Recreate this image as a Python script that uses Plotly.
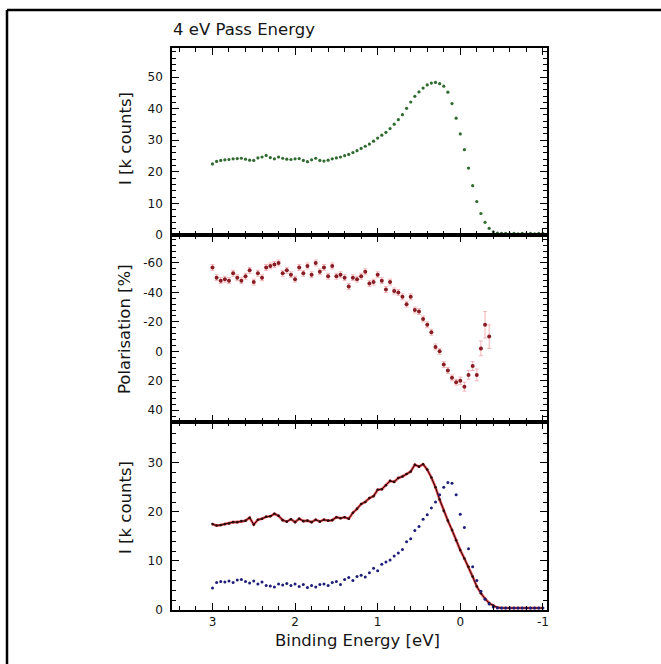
import plotly.graph_objects as go

# ---------------- data ----------------
energy = [3.00, 2.95, 2.90, 2.85, 2.80, 2.75, 2.70, 2.65, 2.60, 2.55,
          2.50, 2.45, 2.40, 2.35, 2.30, 2.25, 2.20, 2.15, 2.10, 2.05,
          2.00, 1.95, 1.90, 1.85, 1.80, 1.75, 1.70, 1.65, 1.60, 1.55,
          1.50, 1.45, 1.40, 1.35, 1.30, 1.25, 1.20, 1.15, 1.10, 1.05,
          1.00, 0.95, 0.90, 0.85, 0.80, 0.75, 0.70, 0.65, 0.60, 0.55,
          0.50, 0.45, 0.40, 0.35, 0.30, 0.25, 0.20, 0.15, 0.10, 0.05,
          0.00, -0.05, -0.10, -0.15, -0.20, -0.25, -0.30, -0.35, -0.40, -0.45,
          -0.50, -0.55, -0.60, -0.65, -0.70, -0.75, -0.80, -0.85, -0.90, -0.95,
          -1.00]

intensity_total = [22.5, 23.3, 23.6, 23.8, 23.9, 24.1, 24.2, 24.3, 24.0, 23.7,
                   23.6, 24.4, 24.7, 25.2, 24.5, 24.1, 24.7, 24.3, 24.0, 23.9,
                   24.1, 24.2, 23.6, 23.2, 23.8, 24.3, 23.6, 23.4, 23.7, 24.1,
                   24.4, 24.7, 25.1, 25.5, 26.1, 26.7, 27.4, 28.1, 28.8, 29.7,
                   30.7, 31.6, 32.5, 33.7, 35.1, 36.5, 38.1, 40.1, 42.1, 43.9,
                   45.3, 46.5, 47.5, 48.1, 48.3, 47.9, 47.1, 45.2, 41.6, 37.0,
                   32.0, 27.0, 21.2, 15.6, 10.6, 6.8, 4.0, 2.1, 1.0, 0.6,
                   0.5, 0.5, 0.4, 0.5, 0.4, 0.5, 0.4, 0.5, 0.4, 0.5,
                   0.5]

energy_pol = energy[:68]
polarisation = [-57, -50, -48, -49, -48, -53, -50, -48, -51, -55,
                -47, -53, -50, -57, -58, -59, -60, -53, -55, -52,
                -49, -57, -53, -58, -52, -60, -54, -57, -51, -58,
                -51, -52, -50, -44, -50, -49, -51, -54, -46, -47,
                -52, -48, -42, -47, -41, -40, -37, -32, -37, -28,
                -27, -22, -18, -13, -3, 0, 9, 13, 18, 21,
                20, 24, 16, 10, 16, -2, -18, -10]
polarisation_err = [2, 2, 2, 2, 2, 2, 2, 2, 2, 2,
                    2, 2, 2, 2, 2, 2, 2, 2, 2, 2,
                    2, 2, 2, 2, 2, 2, 2, 2, 2, 2,
                    2, 2, 2, 2, 2, 2, 2, 2, 2, 2,
                    2, 2, 2, 2, 2, 2, 2, 2, 2, 2,
                    2, 2, 2, 2, 2, 2, 2, 2, 2, 2,
                    2.5, 3, 3, 3, 4, 5, 9, 8]

intensity_up = [17.5, 17.2, 17.3, 17.5, 17.6, 17.9, 17.9, 18.1, 18.2, 18.8,
                17.4, 18.4, 18.6, 19.0, 19.1, 19.6, 19.2, 18.3, 18.0, 18.5,
                17.9, 18.6, 18.1, 18.2, 17.9, 18.4, 18.0, 18.4, 18.2, 18.3,
                18.9, 18.7, 18.9, 18.6, 19.8, 20.6, 21.6, 22.0, 22.8, 23.2,
                24.5, 24.6, 25.4, 26.3, 26.1, 26.9, 27.2, 27.7, 28.2, 29.6,
                29.2, 29.7, 28.6, 27.0, 25.0, 22.5, 20.2, 18.2, 16.3, 14.2,
                12.2, 10.5, 8.8, 6.8, 4.8, 3.4, 2.3, 1.4, 0.9, 0.5,
                0.4, 0.4, 0.4, 0.4, 0.4, 0.4, 0.4, 0.4, 0.4, 0.4,
                0.4]

intensity_down = [4.5, 5.6, 5.8, 5.7, 5.9, 5.6, 6.1, 6.2, 5.8, 5.5,
                  5.9, 5.3, 5.7, 5.0, 4.9, 4.7, 5.3, 5.1, 5.4, 5.0,
                  5.3, 4.8, 5.2, 4.6, 5.0, 4.7, 5.2, 5.3, 5.0, 5.6,
                  5.8, 5.2, 6.2, 6.6, 6.0, 6.8, 7.1, 6.7, 7.6, 8.5,
                  8.0, 9.3, 9.8, 10.2, 11.0, 11.6, 12.3, 13.9, 14.5, 16.2,
                  17.0, 18.5, 19.4, 20.8, 22.0, 23.5, 25.0, 26.0, 25.8, 23.5,
                  19.5, 16.8, 12.5, 8.8, 6.0, 3.8, 2.2, 1.2, 0.6, 0.4,
                  0.4, 0.4, 0.4, 0.4, 0.4, 0.4, 0.4, 0.4, 0.4, 0.4,
                  0.4]

x_tickvals = [3, 2, 1, 0, -1]
x_ticktext = ["3", "2", "1", "0", "-1"]
y1_tickvals = [0, 10, 20, 30, 40, 50]
y2_tickvals = [-60, -40, -20, 0, 20, 40]
y2_ticktext = ["-60", "-40", "-20", "0", "20", "40"]
y3_tickvals = [0, 10, 20, 30]

# ---------------- figure ----------------
W, H = 661, 664
L, R, T, B = 172, 547, 48, 610
PW, PH = R - L, B - T

def px(x):
    return (x - L) / PW

def py(y):
    return (B - y) / PH

FONT = "DejaVu Sans"
TXT = "#151515"

fig = go.Figure()

fig.add_trace(go.Scatter(x=energy, y=intensity_total, mode="markers",
                         marker=dict(size=3.2, color="#2f6a2f"),
                         xaxis="x", yaxis="y", showlegend=False))

fig.add_trace(go.Scatter(x=energy_pol, y=polarisation, mode="markers",
                         marker=dict(size=4, color="#8a1c24"),
                         error_y=dict(type="data", array=polarisation_err,
                                      color="#f2b4b8", thickness=1, width=2),
                         xaxis="x2", yaxis="y2", showlegend=False))

fig.add_trace(go.Scatter(x=energy, y=intensity_up, mode="lines",
                         line=dict(color="#e8484e", width=2.6),
                         xaxis="x3", yaxis="y3", showlegend=False))
fig.add_trace(go.Scatter(x=energy, y=intensity_up, mode="lines+markers",
                         line=dict(color="#2a0c0c", width=1),
                         marker=dict(size=2.6, color="#2a0c0c"),
                         xaxis="x3", yaxis="y3", showlegend=False))
fig.add_trace(go.Scatter(x=energy, y=intensity_down, mode="markers",
                         marker=dict(size=3, color="#1e1e7a"),
                         xaxis="x3", yaxis="y3", showlegend=False))

axis_common = dict(showline=True, linecolor="black", linewidth=1.6,
                   mirror="ticks", ticks="inside", ticklen=7, tickwidth=1.4,
                   tickcolor="black", showgrid=False, zeroline=False,
                   tickfont=dict(family=FONT, size=12, color=TXT))

xr = [3.49, -1.05]
x_common = dict(axis_common, range=xr, tickvals=x_tickvals, ticktext=x_ticktext,
                minor=dict(ticks="inside", ticklen=4, tickwidth=1.1,
                           tickcolor="black", dtick=0.2, tick0=0))

d1 = [py(235), 1.0]
d2 = [py(422), py(235)]
d3 = [0.0, py(422)]

fig.update_layout(
    width=W, height=H,
    margin=dict(l=L, r=W - R, t=T, b=H - B, pad=0),
    paper_bgcolor="white", plot_bgcolor="white",
    font=dict(family=FONT, color=TXT),
    xaxis=dict(x_common, anchor="y", showticklabels=False),
    xaxis2=dict(x_common, anchor="y2", matches="x", showticklabels=False),
    xaxis3=dict(x_common, anchor="y3", matches="x", showticklabels=True,
                ticklabelstandoff=0),
    yaxis=dict(axis_common, domain=d1, range=[0, 59.2], tickvals=y1_tickvals,
               anchor="x", ticklabelstandoff=5,
               minor=dict(ticks="inside", ticklen=4, tickwidth=1.1,
                          tickcolor="black", dtick=2, tick0=0)),
    yaxis2=dict(axis_common, domain=d2, range=[48, -79], tickvals=y2_tickvals,
                ticktext=y2_ticktext, anchor="x2", ticklabelstandoff=5,
                minor=dict(ticks="inside", ticklen=4, tickwidth=1.1,
                           tickcolor="black", dtick=4, tick0=0)),
    yaxis3=dict(axis_common, domain=d3, range=[0, 38.3], tickvals=y3_tickvals,
                anchor="x3", ticklabelstandoff=5,
                minor=dict(ticks="inside", ticklen=4, tickwidth=1.1,
                           tickcolor="black", dtick=2, tick0=0)),
)

ann_font = dict(family=FONT, size=16.5, color=TXT)
fig.add_annotation(text="4 eV Pass Energy", xref="paper", yref="paper",
                   x=px(171), y=py(30), xanchor="left", yanchor="middle",
                   showarrow=False, font=ann_font)
fig.add_annotation(text="I [k counts]", xref="paper", yref="paper",
                   x=px(125), y=py(139), textangle=-90, xanchor="center",
                   yanchor="middle", showarrow=False, font=ann_font)
fig.add_annotation(text="Polarisation [%]", xref="paper", yref="paper",
                   x=px(124), y=py(329), textangle=-90, xanchor="center",
                   yanchor="middle", showarrow=False, font=ann_font)
fig.add_annotation(text="I [k counts]", xref="paper", yref="paper",
                   x=px(125), y=py(508), textangle=-90, xanchor="center",
                   yanchor="middle", showarrow=False, font=ann_font)
fig.add_annotation(text="Binding Energy [eV]", xref="paper", yref="paper",
                   x=px(357), y=py(640), xanchor="center", yanchor="middle",
                   showarrow=False, font=ann_font)

# outer frame (top and left edges only, as in the reference)
fig.add_shape(type="line", xref="paper", yref="paper",
              x0=px(7), y0=py(10), x1=px(661), y1=py(10),
              line=dict(color="black", width=2.5))
fig.add_shape(type="line", xref="paper", yref="paper",
              x0=px(7), y0=py(10), x1=px(7), y1=py(664),
              line=dict(color="black", width=2.5))

fig.write_html("out.html",
               config={"displayModeBar": False},
               post_script="document.body.style.margin='0px';"
                           "document.body.style.overflow='hidden';")
